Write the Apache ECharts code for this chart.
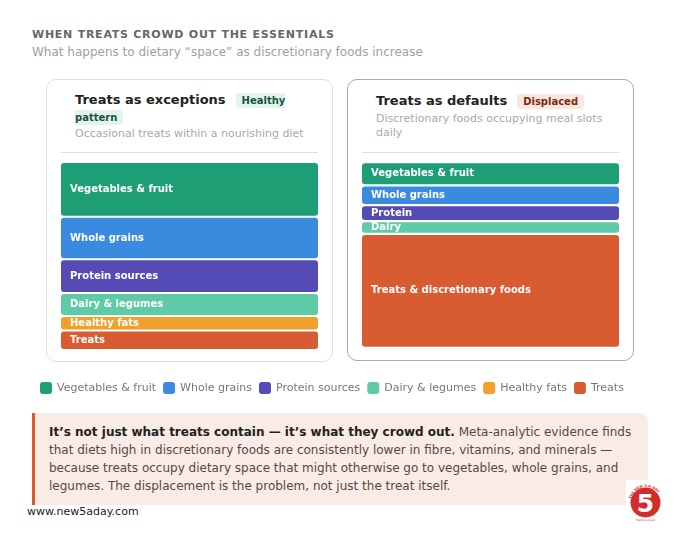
<!DOCTYPE html>
<html>
<head>
<meta charset="utf-8">
<script src="https://cdn.jsdelivr.net/npm/echarts@6/dist/echarts.min.js"></script>
<style>
  html, body { margin: 0; padding: 0; background: #fff; }
  body { width: 680px; height: 533px; position: relative; overflow: hidden; font-family: 'DejaVu Sans', sans-serif; }
  .abs { position: absolute; }
  .kicker { left: 32px; top: 28px; font-size: 11px; line-height: 13px; font-weight: bold; letter-spacing: 0.75px; color: #666; white-space: nowrap; }
  .sub { left: 32px; top: 45.4px; font-size: 12px; line-height: 15px; color: #a0a0a0; white-space: nowrap; }
  .card { top: 79px; width: 287px; box-sizing: border-box; border-radius: 10px; background: #fff; }
  .card-left { left: 46px; height: 283px; border: 1px solid #e2dfd4; }
  .card-right { left: 347px; height: 282px; border: 1px solid #ababab; }
  .head { width: 229px; font-size: 13px; line-height: 16.4px; font-weight: bold; color: #222; }
  .badge { font-size: 10px; font-weight: bold; padding: 2px 6px; border-radius: 4px; margin-left: 10px; }
  .badge-good { background: #e2f4ed; color: #17553f; }
  .badge-bad { background: #fbe7df; color: #7e2a10; }
  .desc { width: 229px; font-size: 11px; line-height: 14.6px; color: #a8a8a8; }
  .rule { top: 152px; width: 257px; height: 1px; background: #e1ded3; }
  .note { left: 32px; top: 413px; width: 616px; height: 92px; box-sizing: border-box; padding: 10px 14px 10px 14px;
          background: #f9ebe5; border-left: 3px solid #d95b30; border-radius: 0 8px 8px 0;
          font-size: 12px; line-height: 18px; color: #5b4741; }
  .note b { color: #222; }
  .site { left: 27px; top: 505px; font-size: 11px; line-height: 13px; color: #222; }
  #chart { position: absolute; left: 0; top: 0; width: 680px; height: 533px; }
</style>
</head>
<body>
<div class="abs kicker">WHEN TREATS CROWD OUT THE ESSENTIALS</div>
<div class="abs sub">What happens to dietary “space” as discretionary foods increase</div>

<div class="abs card card-left"></div>
<div class="abs card card-right"></div>

<div class="abs head" style="left:75px;top:91.6px;">Treats as exceptions<span class="badge badge-good">Healthy pattern</span></div>
<div class="abs desc" style="left:75px;top:127.2px;">Occasional treats within a nourishing diet</div>
<div class="abs rule" style="left:61px;"></div>

<div class="abs head" style="left:376px;top:93.3px;">Treats as defaults<span class="badge badge-bad">Displaced</span></div>
<div class="abs desc" style="left:376px;top:111.6px;">Discretionary foods occupying meal slots daily</div>
<div class="abs rule" style="left:362px;"></div>

<div class="abs note"><b>It’s not just what treats contain — it’s what they crowd out.</b> Meta-analytic evidence finds that diets high in discretionary foods are consistently lower in fibre, vitamins, and minerals — because treats occupy dietary space that might otherwise go to vegetables, whole grains, and legumes. The displacement is the problem, not just the treat itself.</div>

<div class="abs site">www.new5aday.com</div>

<svg class="abs" style="left:626px;top:480px;" width="40" height="42" viewBox="0 0 40 42">
  <rect x="0" y="0" width="40" height="42" fill="#fff"/>
  <defs>
    <path id="arcTop" d="M5,22 A15,15 0 0 1 35,22"/>
  </defs>
  <circle cx="19.5" cy="22.5" r="15" fill="#d42b2b"/>
  <text font-family="DejaVu Sans" font-size="3.4" font-weight="bold" fill="#d42b2b"><textPath href="#arcTop" startOffset="3">THE NEW 5-A-DAY</textPath></text>
  <text x="19.5" y="31.5" text-anchor="middle" font-family="DejaVu Sans" font-size="25" font-weight="bold" fill="#fff">5</text>
  <text x="19.5" y="41" text-anchor="middle" font-family="DejaVu Sans" font-size="2.4" fill="#d42b2b">TREATS &amp; FOOD</text>
</svg>

<div id="chart"></div>

<script>
// left panel: treats as exceptions (share of the plate, %)
const categories = ['Vegetables & fruit', 'Whole grains', 'Protein sources', 'Dairy & legumes', 'Healthy fats', 'Treats']
const healthyValues = [30, 23, 18, 12, 7, 10]
// right panel: treats as defaults
const displacedLabels = ['Vegetables & fruit', 'Whole grains', 'Protein', 'Dairy', 'Treats & discretionary foods']
const displacedValues = [12, 10, 8, 6, 64]
const colors = ['#1d9e75', '#3a8bdf', '#544bb7', '#5ecba6', '#f0a02b', '#d95b31']
const displacedColors = ['#1d9e75', '#3a8bdf', '#544bb7', '#5ecba6', '#d95b31']

const GAPS = [2, 2.25] // px between blocks, per panel

// one block of the stacked column: value range [start, end], pushed down by idx gaps
function renderBlock(params, api) {
  const start = api.value(1)
  const end = api.value(2)
  const idx = api.value(3)
  const gap = GAPS[params.seriesIndex < categories.length ? 0 : 1]
  const p0 = api.coord([0, start])
  const p1 = api.coord([0, end])
  const w = api.size([1, 0])[0]
  return {
    type: 'rect',
    shape: { x: p0[0] - w / 2, y: p0[1] + idx * gap, width: w, height: p1[1] - p0[1], r: 3 },
    style: { fill: api.visual('color') },
    textContent: {
      style: { text: params.seriesName, fill: '#fff', font: 'bold 10px "DejaVu Sans"' }
    },
    textConfig: { position: 'insideLeft', distance: 9 }
  }
}

function blockSeries(name, values, i, color, idx) {
  const start = values.slice(0, i).reduce((a, b) => a + b, 0)
  return {
    name: name,
    type: 'custom',
    xAxisIndex: idx,
    yAxisIndex: idx,
    renderItem: renderBlock,
    clip: false,
    itemStyle: { color: color },
    encode: { x: 0, y: [1, 2] },
    data: [[0, start, start + values[i], i]],
    emphasis: { disabled: true }
  }
}

const series = []
categories.forEach((c, i) => series.push(blockSeries(c, healthyValues, i, colors[i], 0)))
displacedLabels.forEach((c, i) => series.push(blockSeries(c, displacedValues, i, displacedColors[i], 1)))

const option = {
  animation: false,
  legend: {
    data: categories,
    left: 35,
    top: 377,
    icon: 'roundRect',
    itemWidth: 12,
    itemHeight: 12,
    itemGap: 7,
    selectedMode: false,
    textStyle: { color: '#777', fontSize: 11, fontFamily: 'DejaVu Sans' }
  },
  // value axis holds the blocks only; the gaps are added on top of it
  grid: [
    { left: 61, top: 163, width: 257, height: 176 },
    { left: 362, top: 163.3, width: 257, height: 174.4 }
  ],
  xAxis: [
    { type: 'category', gridIndex: 0, data: ['Treats as exceptions'], show: false },
    { type: 'category', gridIndex: 1, data: ['Treats as defaults'], show: false }
  ],
  yAxis: [
    { type: 'value', gridIndex: 0, min: 0, max: 100, inverse: true, show: false },
    { type: 'value', gridIndex: 1, min: 0, max: 100, inverse: true, show: false }
  ],
  series: series
}

const myChart = echarts.init(document.getElementById('chart'))
myChart.setOption(option, true)
window.addEventListener('resize', () => {
  myChart.resize()
})
</script>
</body>
</html>
